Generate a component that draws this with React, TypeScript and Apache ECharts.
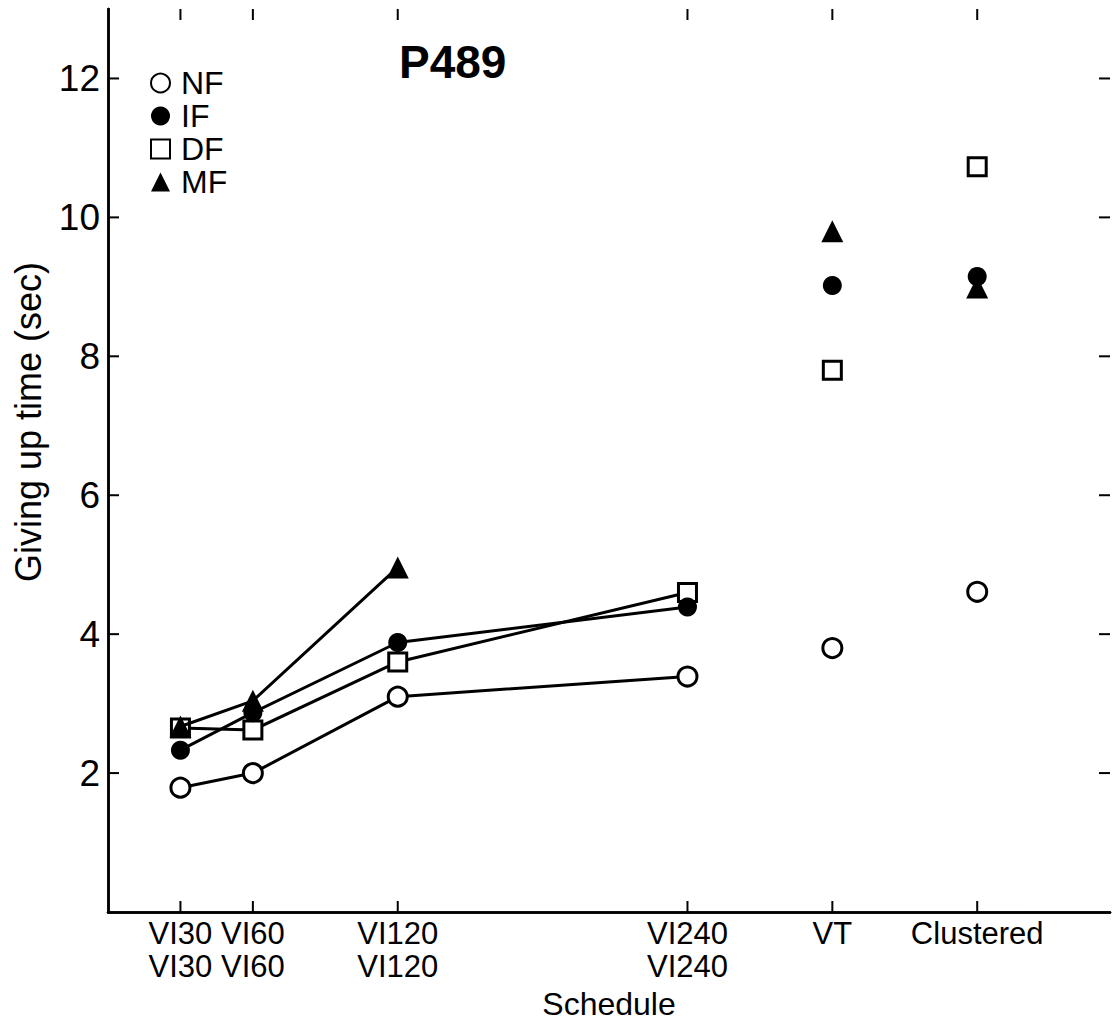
import React, { useEffect, useRef } from "react";
import * as echarts from "echarts";

// x position of each schedule on the time axis (VI schedules in seconds; VT and Clustered placed after)
const schedulePos = [30, 60, 120, 240, 300, 360];
const scheduleLabels = ["VI30\nVI30", "VI60\nVI60", "VI120\nVI120", "VI240\nVI240", "VT", "Clustered"];
const yTicks = [2, 4, 6, 8, 10, 12];

// Giving-up time (sec) per schedule, in schedule order
const nfValues = [1.79, 2.0, 3.1, 3.39, 3.8, 4.61];
const ifValues = [2.33, 2.87, 3.88, 4.39, 9.02, 9.15];
const dfValues = [2.65, 2.62, 3.6, 4.6, 7.8, 10.73];
const mfValues: (number | null)[] = [2.67, 3.04, 4.96, null, 9.8, 8.99];

const lineIdx = [0, 1, 2, 3];
const scatterIdx = [4, 5];

const FONT = "'Liberation Sans', Arial, sans-serif";
const X_MAX = 415;
const Y_MAX = 13;
const TICK_LEN = 11;

function pts(vals: (number | null)[], idx: number[]) {
  return idx.filter((i) => vals[i] != null).map((i) => [schedulePos[i], vals[i] as number]);
}

export default function App() {
  const ref = useRef<HTMLDivElement>(null);
  useEffect(() => {
    document.body.style.margin = "0";
    if (!ref.current) return;
    const chart = echarts.init(ref.current, null, { renderer: "svg" });

    const conds = [
      { name: "NF", vals: nfValues, symbol: "circle", size: 19, item: { color: "#fff", borderColor: "#000", borderWidth: 3, opacity: 1 } },
      { name: "DF", vals: dfValues, symbol: "rect", size: 18, item: { color: "#fff", borderColor: "#000", borderWidth: 3, opacity: 1 } },
      { name: "IF", vals: ifValues, symbol: "circle", size: 19, item: { color: "#000", borderColor: "#000", borderWidth: 0, opacity: 1 } },
      { name: "MF", vals: mfValues, symbol: "triangle", size: 22, item: { color: "#000", borderColor: "#000", borderWidth: 0, opacity: 1 } },
    ];

    const tickStyle = { stroke: "#000", lineWidth: 2 };
    const series: any[] = [
      // inward ticks on bottom and top frame at each schedule position
      {
        type: "custom",
        silent: true,
        z: 1,
        data: schedulePos.map((v) => [v, 0]),
        renderItem: (_p: any, api: any) => {
          const x = api.value(0);
          const b = api.coord([x, 0]);
          const t = api.coord([x, Y_MAX]);
          return {
            type: "group",
            children: [
              { type: "line", shape: { x1: b[0], y1: b[1], x2: b[0], y2: b[1] - TICK_LEN }, style: tickStyle },
              { type: "line", shape: { x1: t[0], y1: t[1], x2: t[0], y2: t[1] + TICK_LEN }, style: tickStyle },
            ],
          };
        },
      },
      // inward ticks on left and right frame at each y tick
      {
        type: "custom",
        silent: true,
        z: 1,
        data: yTicks.map((v) => [0, v]),
        renderItem: (_p: any, api: any) => {
          const y = api.value(1);
          const l = api.coord([0, y]);
          const r = api.coord([X_MAX, y]);
          return {
            type: "group",
            children: [
              { type: "line", shape: { x1: l[0], y1: l[1], x2: l[0] + TICK_LEN, y2: l[1] }, style: tickStyle },
              { type: "line", shape: { x1: r[0], y1: r[1], x2: r[0] - TICK_LEN, y2: r[1] }, style: tickStyle },
            ],
          };
        },
      },
    ];
    conds.forEach((c, k) => {
      series.push({
        name: c.name,
        type: "line",
        data: pts(c.vals, lineIdx),
        symbol: c.symbol,
        symbolSize: c.size,
        showAllSymbol: true,
        itemStyle: c.item,
        lineStyle: { color: "#000", width: 3 },
        z: 2 + k,
      });
      series.push({
        name: c.name,
        type: "scatter",
        data: pts(c.vals, scatterIdx),
        symbol: c.symbol,
        symbolSize: c.size,
        itemStyle: c.item,
        z: 2 + k,
      });
    });

    const axisLine = { show: true, lineStyle: { color: "#000", width: 2.5 } };
    const noTick = { show: false };

    chart.setOption({
      animation: false,
      backgroundColor: "#fff",
      textStyle: { fontFamily: FONT, color: "#000" },
      title: {
        text: "P489",
        left: 394,
        top: 34,
        textStyle: { fontSize: 46, fontWeight: "bold", color: "#000", fontFamily: FONT },
      },
      legend: {
        orient: "vertical",
        left: 145,
        top: 62,
        itemWidth: 19,
        itemHeight: 19,
        itemGap: 1,
        data: [
          { name: "NF", icon: "circle" },
          { name: "IF", icon: "circle" },
          { name: "DF", icon: "rect" },
          { name: "MF", icon: "triangle" },
        ],
        textStyle: { fontSize: 32, color: "#000", fontFamily: FONT, padding: [0, 0, 0, 6] },
        selectedMode: false,
      },
      grid: { left: 108, right: 3, top: 9, bottom: 114 },
      xAxis: [
        {
          type: "value",
          position: "bottom",
          min: 0,
          max: X_MAX,
          axisLine,
          axisTick: noTick,
          splitLine: { show: false },
          axisLabel: {
            customValues: schedulePos,
            formatter: (v: number) => {
              const i = schedulePos.indexOf(v);
              return i >= 0 ? scheduleLabels[i] : "";
            },
            fontSize: 31,
            lineHeight: 33,
            margin: 5,
            color: "#000",
            fontFamily: FONT,
            verticalAlign: "top",
          },
          name: "Schedule",
          nameLocation: "middle",
          nameGap: 70,
          nameTextStyle: { fontSize: 32, color: "#000", fontFamily: FONT },
        },
        {
          type: "value",
          position: "top",
          min: 0,
          max: X_MAX,
          axisLine,
          axisTick: noTick,
          axisLabel: { show: false },
          splitLine: { show: false },
        },
      ],
      yAxis: [
        {
          type: "value",
          position: "left",
          min: 0,
          max: Y_MAX,
          axisLine,
          axisTick: noTick,
          splitLine: { show: false },
          axisLabel: {
            customValues: yTicks,
            fontSize: 37,
            margin: 8,
            color: "#000",
            fontFamily: FONT,
          },
        },
        {
          type: "value",
          position: "right",
          min: 0,
          max: Y_MAX,
          axisLine,
          axisTick: noTick,
          axisLabel: { show: false },
          splitLine: { show: false },
        },
      ],
      graphic: [
        {
          type: "text",
          x: 28,
          y: 422,
          rotation: Math.PI / 2,
          style: {
            text: "Giving up time (sec)",
            fontSize: 36,
            fontFamily: FONT,
            fill: "#000",
            align: "center",
            verticalAlign: "middle",
          },
        },
      ],
      series,
    });
    return () => chart.dispose();
  }, []);
  return <div ref={ref} style={{ width: 1113, height: 1026, overflow: "hidden" }} />;
}
